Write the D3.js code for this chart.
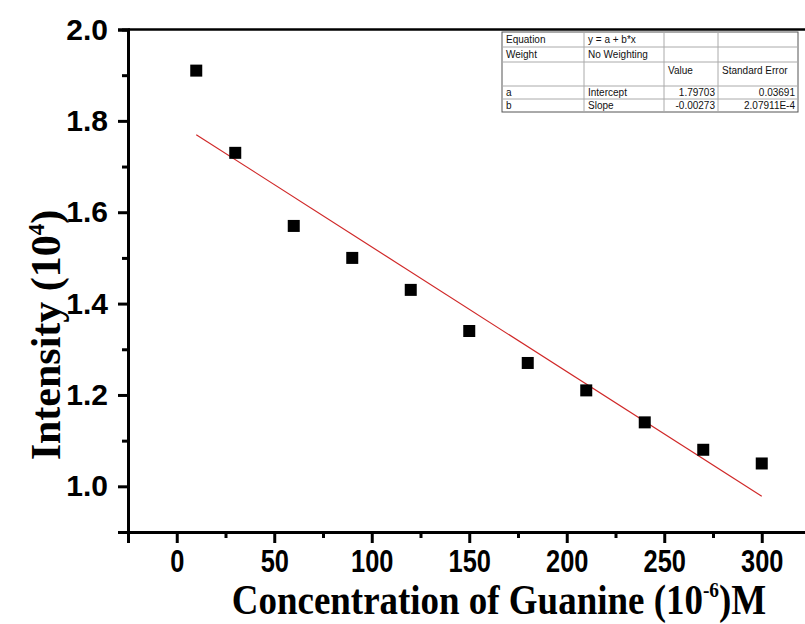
<!DOCTYPE html>
<html>
<head>
<meta charset="utf-8">
<script src="https://cdn.jsdelivr.net/npm/d3@7"></script>
<style>
  body { margin: 0; background: #fff; }
  svg { display: block; }
</style>
</head>
<body>
<div id="chart"></div>
<script>
// measured points
const concentration = [10, 30, 60, 90, 120, 150, 180, 210, 240, 270, 300];
const intensity = [1.91, 1.73, 1.57, 1.50, 1.43, 1.34, 1.27, 1.21, 1.14, 1.08, 1.05];

// linear fit y = a + b*x
const fitIntercept = 1.79703;
const fitSlope = -0.00273;
const fitRange = [10, 300];

const xTicks = [0, 50, 100, 150, 200, 250, 300];
const xMinorTicks = [-25, 25, 75, 125, 175, 225, 275, 325];
const yTicks = [1.0, 1.2, 1.4, 1.6, 1.8, 2.0];
const yMinorTicks = [0.9, 1.1, 1.3, 1.5, 1.7, 1.9];

// fit result table
const tableRows = [
    ["Equation", "y = a + b*x", "", ""],
    ["Weight", "No Weighting", "", ""],
    ["", "", "Value", "Standard Error"],
    ["a", "Intercept", "1.79703", "0.03691"],
    ["b", "Slope", "-0.00273", "2.07911E-4"]
];

const width = 805, height = 624;

let svg = d3.select("#chart").append("svg")
    .attr("width", width)
    .attr("height", height);

let xScale = d3.scaleLinear().domain([-25, 325]).range([128, 810.5]);
let yScale = d3.scaleLinear().domain([0.9, 2.0]).range([532, 29.5]);

// top frame line
svg.append("line")
    .attr("x1", xScale(-25)).attr("x2", width)
    .attr("y1", yScale(2.0)).attr("y2", yScale(2.0))
    .attr("stroke", "#000").attr("stroke-width", 2.5);

// y axis
let yAx = svg.append("g").attr("transform", "translate(" + xScale(-25) + ",0)");
yAx.call(d3.axisLeft(yScale).tickValues(yTicks).tickSize(10).tickFormat(d3.format(".1f")));
let yMinor = svg.append("g").attr("transform", "translate(" + xScale(-25) + ",0)");
yMinor.call(d3.axisLeft(yScale).tickValues(yMinorTicks).tickSize(6).tickFormat(""));

// x axis
let xAx = svg.append("g").attr("transform", "translate(0," + yScale(0.9) + ")");
xAx.call(d3.axisBottom(xScale).tickValues(xTicks).tickSize(11).tickFormat(d3.format("d")));
let xMinor = svg.append("g").attr("transform", "translate(0," + yScale(0.9) + ")");
xMinor.call(d3.axisBottom(xScale).tickValues(xMinorTicks).tickSize(6).tickFormat(""));

svg.selectAll(".domain").attr("stroke", "#000").attr("stroke-width", 3);
svg.selectAll(".tick line").attr("stroke", "#000").attr("stroke-width", 3);

yAx.selectAll(".tick text")
    .attr("x", -20)
    .style("font-family", "'Liberation Sans', Arial, sans-serif")
    .style("font-weight", "bold")
    .style("font-size", "30px")
    .attr("fill", "#000");

xAx.selectAll(".tick text")
    .attr("y", 0).attr("dy", 0)
    .attr("transform", "translate(0,40) scale(0.82,1)")
    .style("font-family", "'Liberation Sans', Arial, sans-serif")
    .style("font-weight", "bold")
    .style("font-size", "31px")
    .attr("fill", "#000");

// fit line
svg.append("line")
    .attr("x1", xScale(fitRange[0]))
    .attr("y1", yScale(fitIntercept + fitSlope * fitRange[0]))
    .attr("x2", xScale(fitRange[1]))
    .attr("y2", yScale(fitIntercept + fitSlope * fitRange[1]))
    .attr("stroke", "#d02828")
    .attr("stroke-width", 1.2);

// points
let pts = concentration.map((c, i) => ({x: c, y: intensity[i]}));
svg.selectAll("rect.pt").data(pts).enter().append("rect")
    .attr("class", "pt")
    .attr("x", d => xScale(d.x) - 6)
    .attr("y", d => yScale(d.y) - 6)
    .attr("width", 12)
    .attr("height", 12)
    .attr("fill", "#000");

// axis titles
let xTitle = svg.append("text")
    .attr("transform", "translate(499,614) scale(0.88,1)")
    .attr("text-anchor", "middle")
    .style("font-family", "'Liberation Serif', 'Times New Roman', serif")
    .style("font-weight", "bold")
    .style("font-size", "42px");
xTitle.append("tspan").text("Concentration of Guanine (10");
xTitle.append("tspan").text("-6").attr("dy", -17).style("font-size", "22px");
xTitle.append("tspan").text(")M").attr("dy", 17);

let yTitle = svg.append("text")
    .attr("transform", "translate(60,335) rotate(-90)")
    .attr("text-anchor", "middle")
    .style("font-family", "'Liberation Serif', 'Times New Roman', serif")
    .style("font-weight", "bold")
    .style("font-size", "42px");
yTitle.append("tspan").text("Intensity (10");
yTitle.append("tspan").text("4").attr("dy", -16).style("font-size", "23px");
yTitle.append("tspan").text(")").attr("dy", 16);

// table
let colX = [502, 584, 664, 718, 798];
let rowY = [32, 47, 62, 86, 99, 112];
let baseOff = [11, 11, 12, 10, 10];
let table = svg.append("g");
table.append("rect")
    .attr("x", colX[0]).attr("y", rowY[0])
    .attr("width", colX[4] - colX[0]).attr("height", rowY[5] - rowY[0])
    .attr("fill", "#fff").attr("stroke", "#555").attr("stroke-width", 1);
rowY.slice(1, -1).forEach(y => {
    table.append("line")
        .attr("x1", colX[0]).attr("x2", colX[4])
        .attr("y1", y).attr("y2", y)
        .attr("stroke", "#aaa").attr("stroke-width", 1);
});
colX.slice(1, -1).forEach(x => {
    table.append("line")
        .attr("x1", x).attr("x2", x)
        .attr("y1", rowY[0]).attr("y2", rowY[5])
        .attr("stroke", "#aaa").attr("stroke-width", 1);
});
tableRows.forEach((row, r) => {
    row.forEach((cell, c) => {
        if (cell === "") return;
        let rightAlign = c >= 2 && r >= 3;
        table.append("text")
            .attr("x", rightAlign ? colX[c + 1] - 3 : colX[c] + 4)
            .attr("y", rowY[r] + baseOff[r])
            .attr("text-anchor", rightAlign ? "end" : "start")
            .style("font-family", "'Liberation Sans', Arial, sans-serif")
            .style("font-size", "10px")
            .attr("fill", "#111")
            .text(cell);
    });
});
</script>
</body>
</html>
